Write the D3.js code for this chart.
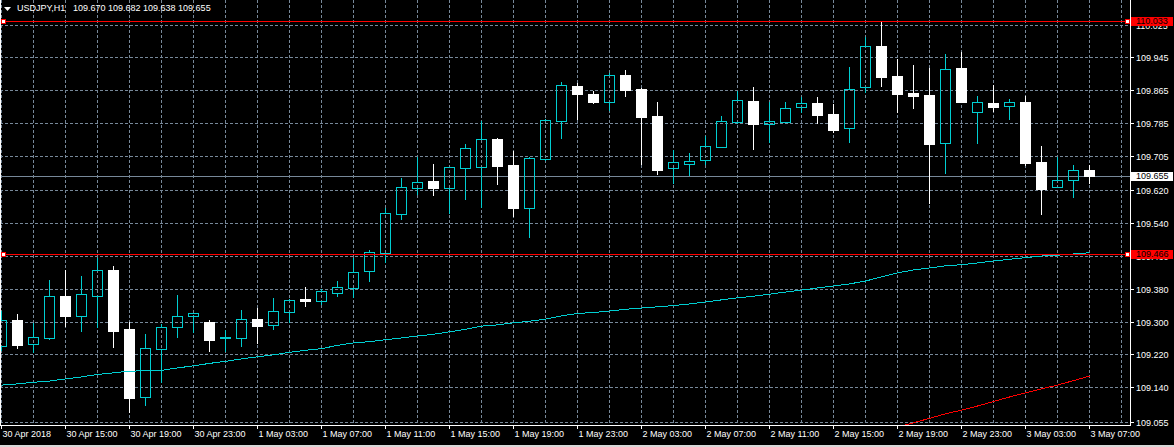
<!DOCTYPE html>
<html><head><meta charset="utf-8">
<script src="https://cdn.jsdelivr.net/npm/d3@7"></script>
<style>
html,body{margin:0;padding:0;background:#000;overflow:hidden}
svg{display:block}
text{font-family:"Liberation Sans",Arial,sans-serif;font-size:9px}
</style>
</head><body>
<svg id="c" width="1174" height="447"></svg>
<script>
const symbol = "USDJPY,H1";
const times = [
"30 Apr 11:00","30 Apr 12:00","30 Apr 13:00","30 Apr 14:00","30 Apr 15:00","30 Apr 16:00","30 Apr 17:00","30 Apr 18:00","30 Apr 19:00","30 Apr 20:00","30 Apr 21:00","30 Apr 22:00","30 Apr 23:00",
"1 May 00:00","1 May 01:00","1 May 02:00","1 May 03:00","1 May 04:00","1 May 05:00","1 May 06:00","1 May 07:00","1 May 08:00","1 May 09:00","1 May 10:00","1 May 11:00","1 May 12:00","1 May 13:00","1 May 14:00","1 May 15:00","1 May 16:00","1 May 17:00","1 May 18:00","1 May 19:00","1 May 20:00","1 May 21:00","1 May 22:00","1 May 23:00",
"2 May 00:00","2 May 01:00","2 May 02:00","2 May 03:00","2 May 04:00","2 May 05:00","2 May 06:00","2 May 07:00","2 May 08:00","2 May 09:00","2 May 10:00","2 May 11:00","2 May 12:00","2 May 13:00","2 May 14:00","2 May 15:00","2 May 16:00","2 May 17:00","2 May 18:00","2 May 19:00","2 May 20:00","2 May 21:00","2 May 22:00","2 May 23:00",
"3 May 00:00","3 May 01:00","3 May 02:00","3 May 03:00","3 May 04:00","3 May 05:00","3 May 06:00","3 May 07:00"];
const open  = [109.240,109.304,109.245,109.261,109.362,109.314,109.363,109.426,109.282,109.115,109.234,109.286,109.313,109.299,109.261,109.261,109.306,109.291,109.324,109.355,109.351,109.371,109.383,109.424,109.468,109.563,109.627,109.643,109.627,109.676,109.678,109.746,109.682,109.578,109.698,109.790,109.875,109.855,109.837,109.902,109.868,109.802,109.676,109.685,109.694,109.727,109.788,109.838,109.783,109.788,109.823,109.833,109.807,109.772,109.872,109.973,109.899,109.858,109.853,109.735,109.919,109.811,109.833,109.825,109.836,109.690,109.629,109.645,109.670];
const high  = [109.326,109.319,109.297,109.401,109.426,109.411,109.454,109.436,109.300,109.270,109.294,109.365,109.321,109.303,109.279,109.328,109.333,109.358,109.355,109.384,109.379,109.399,109.454,109.475,109.577,109.650,109.702,109.685,109.678,109.733,109.790,109.748,109.717,109.702,109.795,109.885,109.883,109.862,109.906,109.914,109.869,109.836,109.719,109.711,109.752,109.802,109.863,109.873,109.835,109.835,109.849,109.848,109.831,109.921,109.995,110.033,109.940,109.926,109.920,109.952,109.958,109.851,109.878,109.843,109.851,109.729,109.701,109.682,109.682];
const low   = [109.231,109.236,109.225,109.258,109.290,109.278,109.288,109.238,109.080,109.097,109.153,109.262,109.275,109.228,109.229,109.241,109.247,109.283,109.299,109.339,109.342,109.363,109.361,109.399,109.446,109.551,109.611,109.610,109.566,109.600,109.580,109.637,109.558,109.507,109.694,109.749,109.794,109.833,109.816,109.851,109.685,109.661,109.639,109.658,109.684,109.726,109.785,109.720,109.739,109.787,109.811,109.785,109.762,109.739,109.861,109.876,109.812,109.822,109.590,109.663,109.836,109.737,109.815,109.795,109.683,109.563,109.628,109.605,109.638];
const close = [109.304,109.243,109.262,109.362,109.314,109.367,109.425,109.277,109.114,109.235,109.286,109.313,109.320,109.256,109.263,109.306,109.290,109.325,109.352,109.351,109.374,109.384,109.420,109.469,109.564,109.628,109.640,109.627,109.677,109.723,109.745,109.680,109.577,109.699,109.791,109.877,109.856,109.837,109.901,109.866,109.800,109.670,109.689,109.691,109.728,109.789,109.840,109.783,109.790,109.821,109.833,109.805,109.768,109.867,109.972,109.898,109.856,109.851,109.734,109.916,109.837,109.835,109.824,109.835,109.688,109.624,109.645,109.669,109.655];
const maCyan = [109.145,109.148,109.152,109.155,109.160,109.165,109.171,109.175,109.179,109.180,109.181,109.187,109.192,109.198,109.203,109.209,109.214,109.219,109.225,109.230,109.234,109.242,109.248,109.251,109.256,109.260,109.265,109.269,109.275,109.281,109.289,109.292,109.297,109.301,109.306,109.314,109.320,109.322,109.326,109.330,109.333,109.336,109.339,109.343,109.348,109.353,109.358,109.362,109.367,109.372,109.377,109.382,109.387,109.392,109.399,109.409,109.419,109.426,109.431,109.436,109.439,109.443,109.448,109.452,109.456,109.460,109.462,109.465,109.468];
const maRed = [null,null,null,null,null,null,null,null,null,null,null,null,null,null,null,null,null,null,null,null,null,null,null,null,null,null,null,null,null,null,null,null,null,null,null,null,null,null,null,null,null,null,null,null,null,null,null,null,null,null,null,null,null,null,null,null,
109.043,109.053,109.064,109.075,109.084,109.094,109.105,109.116,109.126,109.136,109.145,109.156,109.167];
const yTicks = [110.025,109.945,109.865,109.785,109.705,109.620,109.540,109.460,109.380,109.300,109.220,109.140,109.055];
const xTickIdx = [0,4,8,12,16,20,24,28,32,36,40,44,48,52,56,60,64,68];
const xTickLabels = ["30 Apr 2018","30 Apr 15:00","30 Apr 19:00","30 Apr 23:00","1 May 03:00","1 May 07:00","1 May 11:00","1 May 15:00","1 May 19:00","1 May 23:00","2 May 03:00","2 May 07:00","2 May 11:00","2 May 15:00","2 May 19:00","2 May 23:00","3 May 03:00","3 May 07:00"];
const levels = [110.033, 109.466];
const lastPrice = close[close.length-1];

const W=1174,H=447,plotR=1130,plotB=425;
const CYAN="#00CED1", GRID="#778899";
const svg=d3.select("#c");
svg.append("rect").attr("width",W).attr("height",H).attr("fill","#000");
svg.append("rect").attr("x",0).attr("y",445).attr("width",W).attr("height",2).attr("fill","#d8d8d8");

const x=d3.scaleLinear().domain([0,times.length-1]).range([1,1089]);
const y=d3.scaleLinear().domain([109.055,110.025]).range([422,24.5]);
const py=v=>Math.round(y(v));
const px=i=>Math.round(x(i));

svg.append("defs").append("clipPath").attr("id","plot").append("rect")
  .attr("x",0).attr("y",0).attr("width",plotR).attr("height",plotB);
const plot=svg.append("g").attr("clip-path","url(#plot)");

// grid
const grid=plot.append("g").attr("stroke",GRID).attr("stroke-dasharray","3,2").attr("stroke-width",1);
grid.selectAll("line.h").data(yTicks).join("line").attr("class","h")
  .attr("x1",0).attr("x2",plotR).attr("y1",d=>py(d)+0.5).attr("y2",d=>py(d)+0.5);
grid.selectAll("line.v").data(d3.range(0,times.length+2,2)).join("line").attr("class","v")
  .attr("x1",d=>px(d)+0.5).attr("x2",d=>px(d)+0.5).attr("y1",0).attr("y2",plotB);

// current price line
plot.append("line").attr("x1",0).attr("x2",plotR)
  .attr("y1",py(lastPrice)+0.5).attr("y2",py(lastPrice)+0.5).attr("stroke",GRID).attr("stroke-width",1);

// candles
const idx=d3.range(times.length);
const cg=plot.append("g");
idx.forEach(i=>{
  const o=open[i],c=close[i],h=high[i],l=low[i];
  const cx=px(i);
  const top=py(Math.max(o,c)), bot=py(Math.min(o,c));
  const hi=py(h), lo=py(l);
  if(c<o){
    cg.append("line").attr("x1",cx+0.5).attr("x2",cx+0.5).attr("y1",hi).attr("y2",lo+1).attr("stroke","#fff");
    cg.append("rect").attr("x",cx-5).attr("y",top).attr("width",11).attr("height",Math.max(1,bot-top+1)).attr("fill","#fff");
  } else {
    if(hi<top) cg.append("line").attr("x1",cx+0.5).attr("x2",cx+0.5).attr("y1",hi).attr("y2",top).attr("stroke",CYAN);
    if(lo>bot) cg.append("line").attr("x1",cx+0.5).attr("x2",cx+0.5).attr("y1",bot+1).attr("y2",lo+1).attr("stroke",CYAN);
    if(bot-top>=1){
      cg.append("rect").attr("x",cx-5+0.5).attr("y",top+0.5).attr("width",10).attr("height",bot-top)
        .attr("fill","none").attr("stroke",CYAN).attr("stroke-width",1);
    } else {
      cg.append("line").attr("x1",cx-5).attr("x2",cx+6).attr("y1",top+0.5).attr("y2",top+0.5).attr("stroke",CYAN);
    }
  }
});

// moving averages
const lineGen=d3.line().defined(d=>d.v!=null).x(d=>x(d.i)+0.5).y(d=>y(d.v));
plot.append("path").datum(idx.map(i=>({i,v:maCyan[i]}))).attr("d",lineGen)
  .attr("fill","none").attr("stroke",CYAN).attr("stroke-width",1).attr("shape-rendering","crispEdges");
plot.append("path").datum(idx.map(i=>({i,v:maRed[i]}))).attr("d",lineGen)
  .attr("fill","none").attr("stroke","#ff0000").attr("stroke-width",1).attr("shape-rendering","crispEdges");

// horizontal level lines
levels.forEach(v=>{
  const ly=py(v);
  plot.append("line").attr("x1",0).attr("x2",plotR).attr("y1",ly+0.5).attr("y2",ly+0.5).attr("stroke","#ff0000");
  [1.5,1125.5].forEach(sx=>{
    svg.append("rect").attr("x",sx).attr("y",ly-1.5).attr("width",4).attr("height",4)
      .attr("fill","#fff").attr("stroke","#ff0000");
  });
});

// axes
const yAxis=svg.append("g").attr("transform",`translate(${plotR},0)`)
  .call(d3.axisRight(y).tickValues(yTicks).tickSize(4).tickFormat(d3.format(".3f")));
yAxis.select(".domain").remove();
yAxis.selectAll(".tick").attr("transform",d=>`translate(0,${py(d)+0.5})`);
yAxis.selectAll(".tick line").attr("stroke","#fff");
yAxis.selectAll(".tick text").attr("fill","#fff").attr("x",6).attr("dy","0.35em")
  .style("font-family","'Liberation Sans',Arial,sans-serif").style("font-size","9px");

const xAxis=svg.append("g").attr("transform",`translate(0,${plotB})`)
  .call(d3.axisBottom(x).tickValues(xTickIdx).tickSize(4).tickFormat((d,k)=>xTickLabels[k]));
xAxis.select(".domain").remove();
xAxis.selectAll(".tick").attr("transform",d=>`translate(${px(d)+0.5},0)`);
xAxis.selectAll(".tick line").attr("stroke","#fff");
xAxis.selectAll(".tick text").attr("fill","#fff").attr("text-anchor","start").attr("x",1).attr("y",6)
  .style("font-family","'Liberation Sans',Arial,sans-serif").style("font-size","9px");

// frame
svg.append("line").attr("x1",plotR+0.5).attr("x2",plotR+0.5).attr("y1",0).attr("y2",plotB+1).attr("stroke","#fff");
svg.append("line").attr("x1",0).attr("x2",plotR+1).attr("y1",plotB+0.5).attr("y2",plotB+0.5).attr("stroke","#fff");
svg.append("line").attr("x1",0.5).attr("x2",0.5).attr("y1",0).attr("y2",plotB+1).attr("stroke","#fff");

// price label boxes
function tag(v,bg,fg){
  const ly=py(v);
  svg.append("rect").attr("x",plotR+1).attr("y",ly-4).attr("width",42).attr("height",9).attr("fill",bg);
  svg.append("text").attr("x",plotR+6).attr("y",ly).attr("dy","0.35em").attr("fill",fg).text(d3.format(".3f")(v));
}
levels.forEach(v=>tag(v,"#ff0000","#000"));
tag(lastPrice,"#ffffff","#000");

// header
svg.append("path").attr("d","M4,7 L11,7 L7.5,11 Z").attr("fill","#fff");
svg.append("text").attr("x",17).attr("y",11).attr("fill","#fff").text(symbol);
const L=times.length-1;
svg.append("text").attr("x",73).attr("y",11).attr("fill","#fff")
  .text([open[L],high[L],low[L],close[L]].map(d3.format(".3f")).join(" "));
</script>
</body></html>
